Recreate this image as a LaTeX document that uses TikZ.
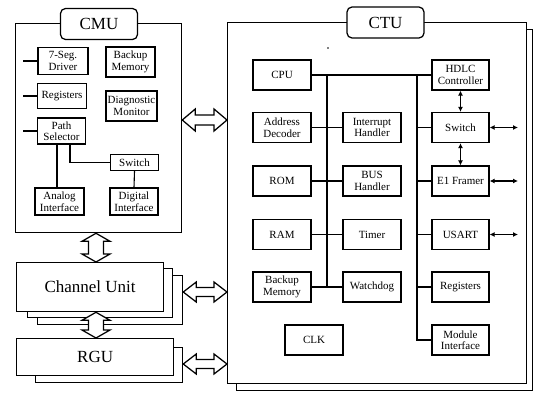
\documentclass[tikz,border=0pt]{standalone}
\usepackage{fontspec}
\setmainfont{Liberation Serif}
\usetikzlibrary{arrows.meta}
\newcommand\hollowH[5]{%
 \draw[hollow] (#1) -- ([shift={(#3,-#4)}]#1) -- ([shift={(#3,-#5)}]#1) -- ([shift={(-#3,-#5)}]#2) -- ([shift={(-#3,-#4)}]#2) -- (#2) -- ([shift={(-#3,#4)}]#2) -- ([shift={(-#3,#5)}]#2) -- ([shift={(#3,#5)}]#1) -- ([shift={(#3,#4)}]#1) -- cycle;}
\newcommand\hollowV[5]{%
 \draw[hollow] (#1) -- ([shift={(#4,#3)}]#1) -- ([shift={(#5,#3)}]#1) -- ([shift={(#5,-#3)}]#2) -- ([shift={(#4,-#3)}]#2) -- (#2) -- ([shift={(-#4,-#3)}]#2) -- ([shift={(-#5,-#3)}]#2) -- ([shift={(-#5,#3)}]#1) -- ([shift={(-#4,#3)}]#1) -- cycle;}
\begin{document}
\begin{tikzpicture}[x=1pt,y=-1pt,
  box/.style={draw, line width=1.25pt, fill=white, align=center, inner sep=0pt,
    font=\fontsize{11}{11.5}\selectfont},
  cbox/.style={box, minimum width=58pt, minimum height=30pt},
  frame/.style={draw, line width=1.25pt, fill=white, inner sep=0pt, anchor=north west},
  title/.style={draw, line width=1.25pt, fill=white, rounded corners=5pt, inner sep=0pt,
    minimum width=77pt, minimum height=31pt, font=\fontsize{17}{20}\selectfont},
  conn/.style={line width=1.1pt},
  bi/.style={line width=1.1pt, {Latex[length=5pt,width=5pt]}-{Latex[length=5pt,width=5pt]}},
  hollow/.style={line width=1.25pt, fill=white, line join=miter},
]
\useasboundingbox (0,0) rectangle (535,392);

% ---------- CMU ----------
\node[frame, minimum width=166pt, minimum height=209pt] (cmu) at (15,23) {};
\node[title] (cmut) at (99,24) {CMU};
\node[box, minimum width=50pt, minimum height=27pt] (seg) at (63,61) {7-Seg.\\Driver};
\node[box, minimum width=49pt, minimum height=30pt] (cbm) at (130.5,62) {Backup\\Memory};
\node[box, minimum width=49pt, minimum height=25pt] (creg) at (62,96) {Registers};
\node[box, minimum width=51pt, minimum height=30pt] (diag) at (131.5,106) {Diagnostic\\Monitor};
\node[box, minimum width=48pt, minimum height=26pt] (ps) at (61.5,131) {Path\\Selector};
\node[box, minimum width=48pt, minimum height=16pt] (csw) at (134.5,162.5) {Switch};
\node[box, minimum width=49pt, minimum height=27pt] (ana) at (59.5,201.5) {Analog\\Interface};
\node[box, minimum width=48pt, minimum height=27pt] (dig) at (134,201.5) {Digital\\Interface};
\coordinate (cmuL) at (23,0);
\coordinate (pl1) at (57,0);
\coordinate (pl2) at (70,0);
\draw[conn] (seg.west) -- (seg.west -| cmuL);
\draw[conn] (creg.west) -- (creg.west -| cmuL);
\draw[conn] (ps.west) -- (ps.west -| cmuL);
\draw[conn] (ps.south -| pl1) -- (ana.north -| pl1);
\draw[conn] (ps.south -| pl2) |- (csw.west);
\draw[conn] (csw.south) -- (dig.north);

% ---------- Channel Unit / RGU stacks ----------
\node[frame, minimum width=145pt, minimum height=49pt] (ch3) at (37,275) {};
\node[frame, minimum width=145pt, minimum height=49pt] (ch2) at (27,268) {};
\node[frame, minimum width=147pt, minimum height=49pt, font=\fontsize{17}{20}\selectfont] (ch) at (16,262) {Channel Unit};
\node[frame, minimum width=147pt, minimum height=35pt] (rgu2) at (35,347) {};
\node[frame, minimum width=157pt, minimum height=37pt, font=\fontsize{17}{20}\selectfont] (rgu) at (16,338) {RGU};

% ---------- CTU ----------
\node[frame, minimum width=296pt, minimum height=361pt] (ctu2) at (236,29) {};
\node[frame, minimum width=299pt, minimum height=361pt] (ctu) at (227,22) {};
\node[title] (ctut) at (385.5,22.5) {CTU};
\fill (328,48) circle (0.8);

\node[cbox] (cpu) at (282,75) {CPU};
\node[cbox] (addr) at (282,127.5) {Address\\Decoder};
\node[cbox] (rom) at (282,181) {ROM};
\node[cbox] (ram) at (282,234.5) {RAM};
\node[cbox] (bkm) at (282,287) {Backup\\Memory};
\node[cbox] (clk) at (314,340) {CLK};
\node[cbox] (intr) at (372,127.5) {Interrupt\\Handler};
\node[cbox] (bus) at (372,181) {BUS\\Handler};
\node[cbox] (tmr) at (372,234.5) {Timer};
\node[cbox] (wd) at (372,287) {Watchdog};
\node[cbox, minimum width=57pt] (hdlc) at (460.5,75) {HDLC\\Controller};
\node[cbox, minimum width=57pt] (sw) at (460.5,127.5) {Switch};
\node[cbox, minimum width=57pt] (e1) at (460.5,181) {E1 Framer};
\node[cbox, minimum width=57pt] (usart) at (460.5,234.5) {USART};
\node[cbox, minimum width=57pt] (creg2) at (460.5,287) {Registers};
\node[cbox, minimum width=57pt] (mod) at (460.5,340) {Module\\Interface};

\coordinate (b1) at (327,75);
\coordinate (b2) at (417,75);
\coordinate (rx) at (518,0);
\draw[conn] (cpu.east) -- (hdlc.west);
\draw[conn] (b1) -- (b1 |- wd.west);
\draw[conn] (b2) |- (mod.west);
\draw[conn] (addr.east) -- (intr.west);
\draw[conn] (rom.east) -- (bus.west);
\draw[conn] (ram.east) -- (tmr.west);
\draw[conn] (bkm.east) -- (wd.west);
\draw[conn] (sw.west -| b2) -- (sw.west);
\draw[conn] (e1.west -| b2) -- (e1.west);
\draw[conn] (usart.west -| b2) -- (usart.west);
\draw[conn] (creg2.west -| b2) -- (creg2.west);
\draw[bi] (hdlc.south) -- (sw.north);
\draw[bi] (sw.south) -- (e1.north);
\draw[bi] (sw.east) -- (sw.east -| rx);
\draw[bi] (e1.east) -- (e1.east -| rx);
\draw[bi] (usart.east) -- (usart.east -| rx);

% ---------- hollow arrows ----------
\coordinate (yA) at (0,120);
\coordinate (yB) at (0,292);
\coordinate (yC) at (0,364);
\coordinate (xV) at (96,0);
\coordinate (a1) at (cmu.east |- yA);
\coordinate (a2) at (ctu.west |- yA);
\hollowH{a1}{a2}{13}{11}{5}
\coordinate (c1) at (ch3.east |- yB);
\coordinate (c2) at (ctu.west |- yB);
\hollowH{c1}{c2}{13}{10}{4.5}
\coordinate (r1) at (rgu2.east |- yC);
\coordinate (r2) at (ctu.west |- yC);
\hollowH{r1}{r2}{13}{10}{4.5}
\coordinate (v1) at (cmu.south -| xV);
\coordinate (v2) at (ch.north -| xV);
\hollowV{v1}{v2}{8}{14}{7.5}
\coordinate (w1) at (ch.south -| xV);
\coordinate (w2) at (rgu.north -| xV);
\hollowV{w1}{w2}{8}{14}{7.5}
\end{tikzpicture}
\end{document}
